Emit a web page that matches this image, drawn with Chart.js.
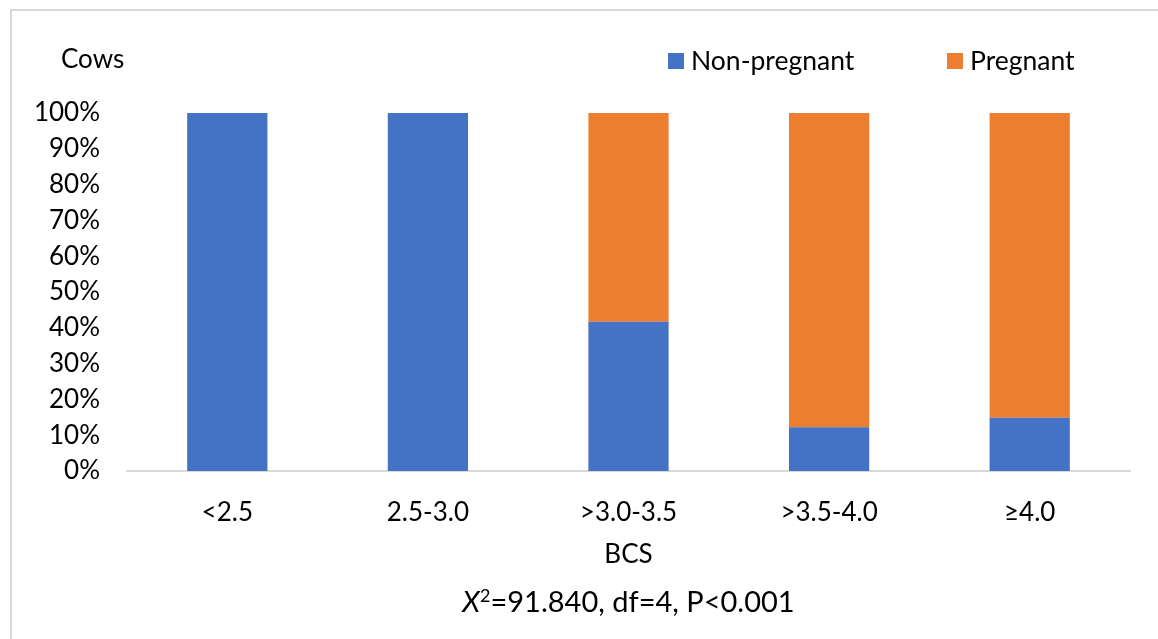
<!DOCTYPE html>
<html>
<head>
<meta charset="utf-8">
<script src="https://cdn.jsdelivr.net/npm/chart.js@4/dist/chart.umd.min.js"></script>
<style>
  html, body { margin: 0; padding: 0; background: #fff; overflow: hidden; }
  #frame { position: absolute; left: 10px; top: 9px; width: 1200px; height: 700px; border: 2px solid #d9d9d9; }
  #wrap { position: absolute; left: 0; top: 0; width: 1158px; height: 639px; }
</style>
</head>
<body>
<div id="frame"></div>
<div id="wrap"><canvas id="myChart"></canvas></div>
<script>
const categories = ['<2.5', '2.5-3.0', '>3.0-3.5', '>3.5-4.0', '≥4.0']
const nonPregnant = [100, 100, 41.7, 12.2, 14.9]
const pregnant = [0, 0, 58.3, 87.8, 85.1]
const yTickValues = [0, 10, 20, 30, 40, 50, 60, 70, 80, 90, 100]

Chart.defaults.font.family = 'Lato'
Chart.defaults.font.size = 26
Chart.defaults.color = '#000'

// texts Chart.js has no slot for: "Cows", legend on the right, stats line
const extras = {
    id: 'extras',
    afterDraw(chart) {
        const { ctx, chartArea } = chart
        ctx.save()
        ctx.font = '26px Lato'
        ctx.fillStyle = '#000'
        ctx.textBaseline = 'middle'
        ctx.textAlign = 'left'
        ctx.fillText('Cows', 61, 60)

        const legendX = [668, 947]
        chart.data.datasets.forEach((ds, i) => {
            ctx.fillStyle = ds.backgroundColor
            ctx.fillRect(legendX[i], 53, 16, 16)
            ctx.fillStyle = '#000'
            ctx.font = '26.5px Lato'
            ctx.fillText(ds.label, legendX[i] + 23, 61)
        })

        const parts = [
            { t: 'X', font: 'italic 29px Lato', dy: 0 },
            { t: '2', font: '18px Lato', dy: -7 },
            { t: '=91.840, df=4, P<0.001', font: '29px Lato', dy: 0 }
        ]
        let total = 0
        parts.forEach(p => { ctx.font = p.font; p.w = ctx.measureText(p.t).width; total += p.w })
        let x = (chartArea.left + chartArea.right) / 2 - total / 2
        parts.forEach(p => {
            ctx.font = p.font
            ctx.fillText(p.t, x, 603 + p.dy)
            x += p.w
        })
        ctx.restore()
    }
}

var ctx = document.getElementById('myChart')
var myChart = new Chart(ctx, {
    type: 'bar',
    data: {
        labels: categories,
        datasets: [{
            label: 'Non-pregnant',
            data: nonPregnant,
            backgroundColor: '#4472C4',
            borderWidth: 0
        }, {
            label: 'Pregnant',
            data: pregnant,
            backgroundColor: '#ED7D31',
            borderWidth: 0
        }]
    },
    options: {
        responsive: true,
        maintainAspectRatio: false,
        animation: false,
        barPercentage: 0.4,
        categoryPercentage: 1,
        layout: {
            padding: { left: 0, right: 28, top: 113, bottom: 67 }
        },
        plugins: {
            legend: { display: false },
            tooltip: { enabled: false }
        },
        scales: {
            x: {
                stacked: true,
                grid: { display: false, drawTicks: false },
                border: { display: true, color: '#d9d9d9', width: 2 },
                ticks: { padding: 26, maxRotation: 0 },
                title: { display: true, text: 'BCS', padding: { top: 0, bottom: 2 } },
                afterFit: scale => { scale.height = 101 }
            },
            y: {
                stacked: true,
                min: 0,
                max: 100,
                grid: { display: false, drawTicks: false },
                border: { display: false },
                ticks: { padding: 27, callback: v => v + '%' },
                afterBuildTicks: axis => { axis.ticks = yTickValues.map(v => ({ value: v })) },
                afterFit: scale => { scale.width = 127 }
            }
        }
    },
    plugins: [extras]
})
</script>
</body>
</html>
